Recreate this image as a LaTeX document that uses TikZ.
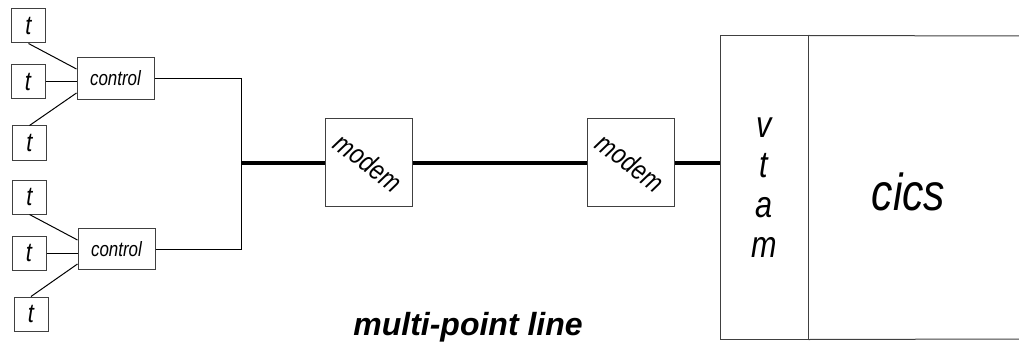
\documentclass[tikz,border=0pt]{standalone}
\usepackage{fontspec}
\setmainfont{Liberation Sans}
\newfontfamily\narrowfont{Liberation Sans}[FakeStretch=0.82]
\usetikzlibrary{calc}

\begin{document}
\begin{tikzpicture}[x=0.75pt,y=-0.75pt,
  box/.style={draw=black!75, line width=0.75pt, inner sep=0pt, fill=white},
  term/.style={box, minimum width=25.5pt, minimum height=25.5pt,
    font=\narrowfont\itshape\fontsize{20}{22}\selectfont},
  ctrl/.style={box, minimum width=57.75pt, minimum height=31pt,
    font=\narrowfont\itshape\fontsize{15.5}{18}\selectfont},
  modembox/.style={box, minimum width=65.25pt, minimum height=65.25pt,
    font=\narrowfont\itshape\fontsize{21}{24}\selectfont},
  wire/.style={line width=0.75pt},
  trunk/.style={line width=3pt},
  frame/.style={draw=black!75, line width=0.75pt}]

\useasboundingbox (0,0) rectangle (1019,349);

% upper cluster controller and its terminals
\node[ctrl] (c1) at (115.5,78.5) {control};
\node[term] (t1) at (28.5,26) {t};
\node[term] (t2) at (28,82) {t};
\node[term] (t3) at (29.5,143) {t};
\draw[wire] (t1.south) -- ($(c1.west)+(0,-9.5)$);
\draw[wire] (t2.east) -- (t2.east -| c1.west);
\draw[wire] (t3.north) -- ($(c1.west)+(0,14.5)$);

% lower cluster controller and its terminals
\node[ctrl] (c2) at (116.5,249) {control};
\node[term] (t4) at (29.5,197) {t};
\node[term] (t5) at (29,253) {t};
\node[term] (t6) at (31,314) {t};
\draw[wire] (t4.south) -- ($(c2.west)+(0,-9)$);
\draw[wire] (t5.east) -- (t5.east -| c2.west);
\draw[wire] (t6.north) -- ($(c2.west)+(0,15)$);

% shared line joining both controllers
\coordinate (bus) at (241,162.5);
\draw[wire] (c1.east) -| (bus);
\draw[wire] (c2.east) -| (bus);

% modems, label set on the diagonal
\node[modembox] (m1) at (368.5,162.5) {\rotatebox{-37}{modem}};
\node[modembox] (m2) at (630.5,162.5) {\rotatebox{-37}{modem}};

% host: vtam and cics
\node[box, minimum width=66pt, minimum height=227.25pt, align=center,
  font=\narrowfont\itshape\fontsize{28}{30}\selectfont] (vtam) at (764,187.5)
  {v\\t\\a\\m};
\draw[frame] (vtam.north east) -- (1019,36);
\draw[frame] (vtam.south east) -- (1019,339);
\node[anchor=base, font=\narrowfont\itshape\fontsize{39}{46}\selectfont] (cics) at (908.5,210) {cics};

% the multi-point line
\draw[trunk] (bus) -- (m1.west);
\draw[trunk] (m1.east) -- (m2.west);
\draw[trunk] (m2.east) -- (m2.east -| vtam.west);

\node[anchor=base, font=\bfseries\itshape\fontsize{24}{28}\selectfont] (title) at (468,335) {multi-point line};
\end{tikzpicture}
\end{document}
